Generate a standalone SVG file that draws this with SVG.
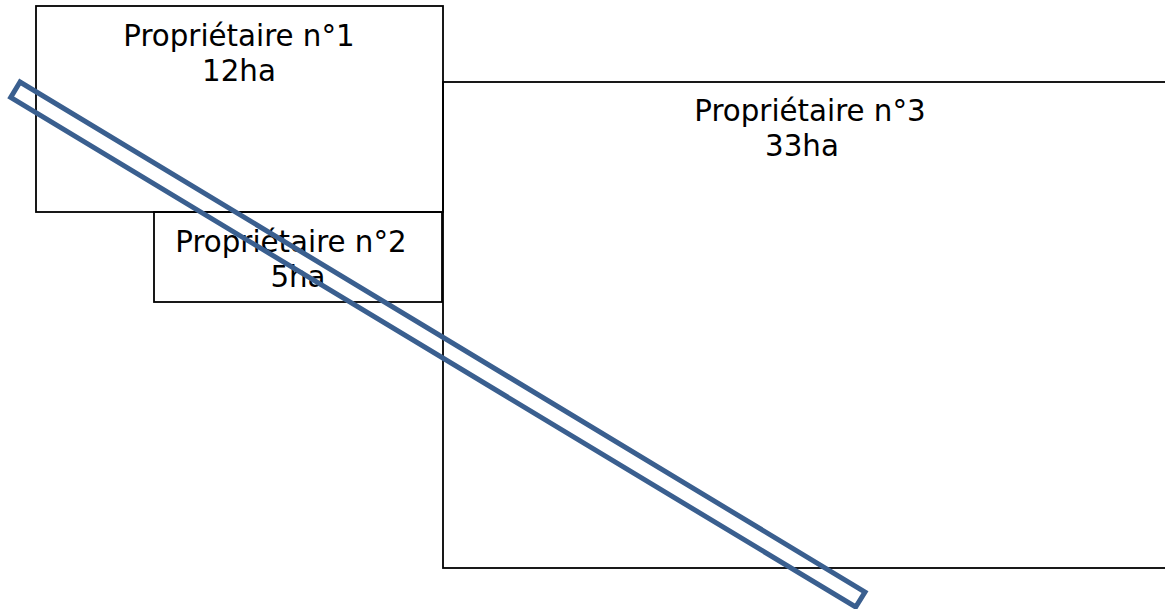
<svg xmlns="http://www.w3.org/2000/svg" width="1165" height="609" viewBox="0 0 1165 609">
  <style>
    .parcel { fill: none; stroke: #000000; stroke-width: 1.8; }
    .label { font-family: "DejaVu Sans", Verdana, sans-serif; font-size: 29.3px; fill: #000000; text-anchor: middle; }
    .strip { fill: none; stroke: #3A5F8F; stroke-width: 5; stroke-linejoin: miter; }
  </style>
  <rect width="1165" height="609" fill="#ffffff"/>
  <g id="proprietaire1">
    <rect class="parcel" x="36" y="6" width="407" height="206"/>
    <text class="label" x="239" y="46">Propriétaire n°1</text>
    <text class="label" x="239" y="81">12ha</text>
  </g>
  <g id="proprietaire2">
    <rect class="parcel" x="154" y="212" width="288" height="90"/>
    <text class="label" x="291" y="252">Propriétaire n°2</text>
    <text class="label" x="298" y="287">5ha</text>
  </g>
  <g id="proprietaire3">
    <rect class="parcel" x="443" y="82" width="740" height="486"/>
    <text class="label" x="810" y="121">Propriétaire n°3</text>
    <text class="label" x="802" y="156">33ha</text>
  </g>
  <g id="bande">
    <polygon class="strip" points="20,82 10.7,97.4 855.7,607 865,592"/>
  </g>
</svg>
